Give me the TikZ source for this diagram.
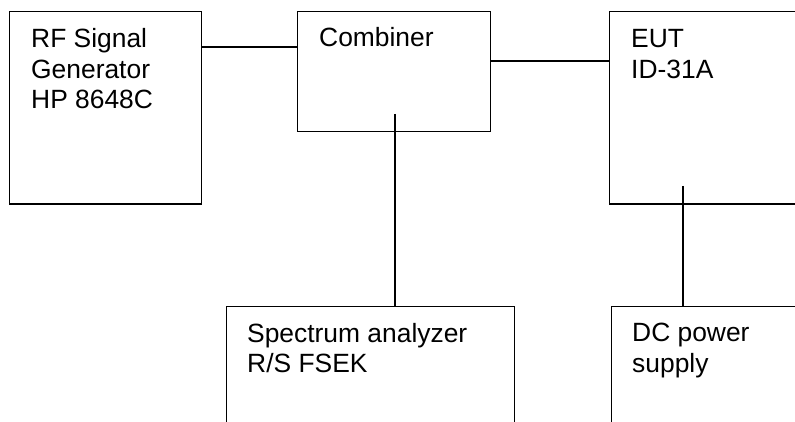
\documentclass[tikz,border=0pt]{standalone}
\usepackage{fontspec}
\setmainfont{Liberation Sans}
\usetikzlibrary{calc}
\begin{document}
\begin{tikzpicture}[x=1pt,y=-1pt,
  box/.style={draw,line width=1.3pt,rectangle,inner sep=0pt,anchor=north west},
  lbl/.style={inner sep=0pt,anchor=base west,align=left,font=\fontsize{26.4}{30.5}\selectfont},
  wire/.style={line width=1.3pt}]
\useasboundingbox (0,0) rectangle (795,422);
\clip (0,0) rectangle (795,422);
\fill[white] (0,0) rectangle (795,422);
% boxes
\node[box,minimum width=192pt,minimum height=192.5pt] (rf) at (9,11) {};
\node[box,minimum width=193pt,minimum height=120pt] (comb) at (297,11) {};
\node[box,minimum width=215pt,minimum height=192.5pt] (eut) at (609,11) {};
\node[box,minimum width=288pt,minimum height=150pt] (spec) at (226,306) {};
\node[box,minimum width=215pt,minimum height=150pt] (dc) at (611,306) {};
% labels (base anchor = last line's baseline)
\node[lbl] (rft) at ($(rf.north west)+(22,98)$) {RF Signal\\Generator\\HP 8648C};
\node[lbl] (combt) at ($(comb.north west)+(22,36)$) {Combiner};
\node[lbl] (eutt) at ($(eut.north west)+(22,67.5)$) {EUT\\ID-31A};
\node[lbl] (spect) at ($(spec.north west)+(21,66.5)$) {Spectrum analyzer\\R/S FSEK};
\node[lbl] (dct) at ($(dc.north west)+(21,66)$) {DC power\\supply};
% connector anchors
\coordinate (c1) at (201,47);
\coordinate (c2) at (490,61);
\coordinate (c3) at (395,114);
\coordinate (c4) at (683,186);
% connectors
\draw[wire] (c1) -- (c1 -| comb.west);
\draw[wire] (c2) -- (c2 -| eut.west);
\draw[wire] (c3) -- (c3 |- spec.north);
\draw[wire] (c4) -- (c4 |- dc.north);
\end{tikzpicture}
\end{document}
